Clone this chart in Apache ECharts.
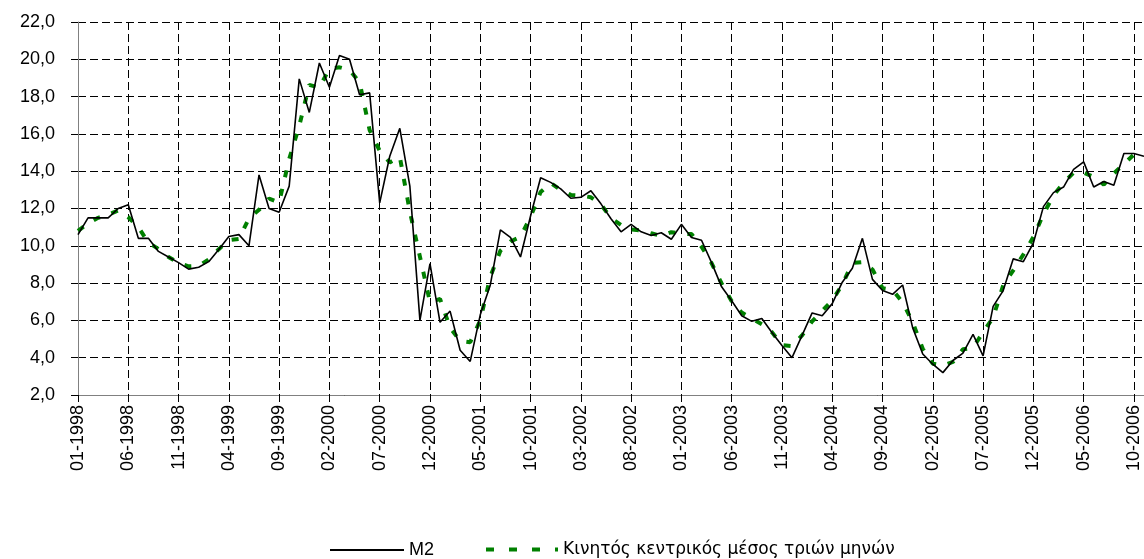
<!DOCTYPE html>
<html>
<head>
<meta charset="utf-8">
<script src="https://cdn.jsdelivr.net/npm/echarts@6/dist/echarts.min.js"></script>
<style>
html,body{margin:0;padding:0;background:#fff;}
#c{width:1144px;height:559px;}
</style>
</head>
<body>
<div id="c"></div>
<script>
// Monthly categories 01-1998 .. 11-2006
const startYear = 1998, monthCount = 107;
const categories = [];
for (let i = 0; i < monthCount; i++) {
  const m = (i % 12) + 1, y = startYear + Math.floor(i / 12);
  categories.push((m < 10 ? '0' + m : '' + m) + '-' + y);
}

const seriesNames = ['M2', 'Κινητός κεντρικός μέσος τριών μηνών'];

const m2 = [
  10.6, 11.5, 11.5, 11.5, 12.0, 12.2, 10.4, 10.4, 9.7, 9.4,
  9.1, 8.75, 8.85, 9.15, 9.8, 10.5, 10.6, 10.0, 13.8, 12.0,
  11.8, 13.2, 18.95, 17.15, 19.8, 18.5, 20.2, 20.0, 18.1, 18.2,
  12.3, 14.8, 16.3, 13.2, 6.0, 9.05, 5.9, 6.5, 4.4, 3.8,
  6.3, 7.9, 10.85, 10.45, 9.4, 11.6, 13.65, 13.4, 13.05, 12.55,
  12.6, 12.95, 12.25, 11.45, 10.75, 11.15, 10.75, 10.55, 10.7, 10.35,
  11.15, 10.45, 10.3, 9.1, 7.8, 7.05, 6.25, 5.95, 6.1, 5.35,
  4.65, 4.0, 5.2, 6.4, 6.25, 6.9, 8.05, 8.8, 10.4, 8.2,
  7.6, 7.4, 7.9, 5.6, 4.2, 3.65, 3.2, 3.85, 4.25, 5.25,
  4.1, 6.75, 7.6, 9.3, 9.15, 10.15, 12.1, 12.85, 13.15, 14.1,
  14.5, 13.15, 13.45, 13.25, 14.95, 14.95, 14.8
];

const movingAvg = [
  10.8, 11.2, 11.5, 11.67, 11.9, 11.53, 11.0, 10.17, 9.83, 9.4,
  9.08, 8.9, 8.92, 9.27, 9.82, 10.3, 10.37, 11.47, 11.93, 12.53,
  12.33, 14.65, 16.43, 18.63, 18.48, 19.5, 19.57, 19.43, 18.77, 16.2,
  15.1, 14.47, 14.77, 11.83, 9.42, 6.98, 7.15, 5.6, 4.9, 4.83,
  6.0, 8.35, 9.73, 10.23, 10.48, 11.55, 12.88, 13.37, 13.0, 12.73,
  12.7, 12.6, 12.22, 11.48, 11.12, 10.88, 10.82, 10.67, 10.53, 10.73,
  10.65, 10.63, 9.95, 9.07, 7.98, 7.03, 6.42, 6.1, 5.8, 5.37,
  4.67, 4.62, 5.2, 5.95, 6.52, 7.07, 7.92, 9.08, 9.13, 8.73,
  7.73, 7.63, 6.97, 5.9, 4.48, 3.68, 3.57, 3.77, 4.45, 4.53,
  5.37, 6.15, 7.88, 8.68, 9.53, 10.47, 11.7, 12.7, 13.37, 13.92,
  13.92, 13.7, 13.28, 13.88, 14.38, 14.9, null
];

const yMin = 2, yMax = 22, yStep = 2;
const FONT = '"Liberation Sans", Arial, sans-serif';

const chart = echarts.init(document.getElementById('c'), null, {renderer: 'canvas'});
chart.setOption({
  animation: false,
  backgroundColor: '#ffffff',
  grid: {left: 78, right: -1, top: 22, bottom: 164, containLabel: false},
  legend: [
    {
      left: 325, top: 536,
      itemWidth: 74, itemHeight: 2, itemGap: 6,
      textStyle: {fontFamily: FONT, fontSize: 18, color: '#000'},
      data: [{name: seriesNames[0], icon: 'rect', itemStyle: {color: '#000'}}]
    },
    {
      left: 481, top: 536,
      itemWidth: 72, itemHeight: 4, itemGap: 6,
      textStyle: {fontFamily: '"DejaVu Sans", sans-serif', fontSize: 17, color: '#000'},
      data: [{
        name: seriesNames[1],
        icon: 'path://M0,0 L8,0 L8,4 L0,4 Z M23,0 L31,0 L31,4 L23,4 Z M46,0 L54,0 L54,4 L46,4 Z M69,0 L72,0 L72,4 L69,4 Z',
        itemStyle: {color: '#008000'}
      }]
    }
  ],
  xAxis: {
    type: 'category',
    data: categories,
    boundaryGap: false,
    axisLine: {lineStyle: {color: '#808080', width: 1}},
    axisTick: {show: true, interval: 4, length: 7, lineStyle: {color: '#000'}},
    axisLabel: {
      interval: 4, rotate: 90, margin: 10,
      fontFamily: FONT, fontSize: 18, color: '#000'
    },
    splitLine: {show: true, interval: 4, lineStyle: {color: '#000', type: [8, 4], width: 1}}
  },
  yAxis: {
    type: 'value',
    min: yMin, max: yMax, interval: yStep,
    axisLine: {show: true, lineStyle: {color: '#808080', width: 1}},
    axisTick: {show: true, length: 7, lineStyle: {color: '#000'}},
    axisLabel: {
      margin: 23, fontFamily: FONT, fontSize: 18, color: '#000',
      formatter: v => v.toFixed(1).replace('.', ',')
    },
    splitLine: {show: true, lineStyle: {color: '#000', type: [8, 4], width: 1}}
  },
  series: [
    {
      name: seriesNames[0], type: 'line', data: m2,
      symbol: 'none', z: 3,
      lineStyle: {color: '#000', width: 1.6},
      itemStyle: {color: '#000'}
    },
    {
      name: seriesNames[1], type: 'line', data: movingAvg,
      symbol: 'none', z: 2,
      lineStyle: {color: '#008000', width: 4, type: [7, 12]},
      itemStyle: {color: '#008000'}
    }
  ]
});
</script>
</body>
</html>
